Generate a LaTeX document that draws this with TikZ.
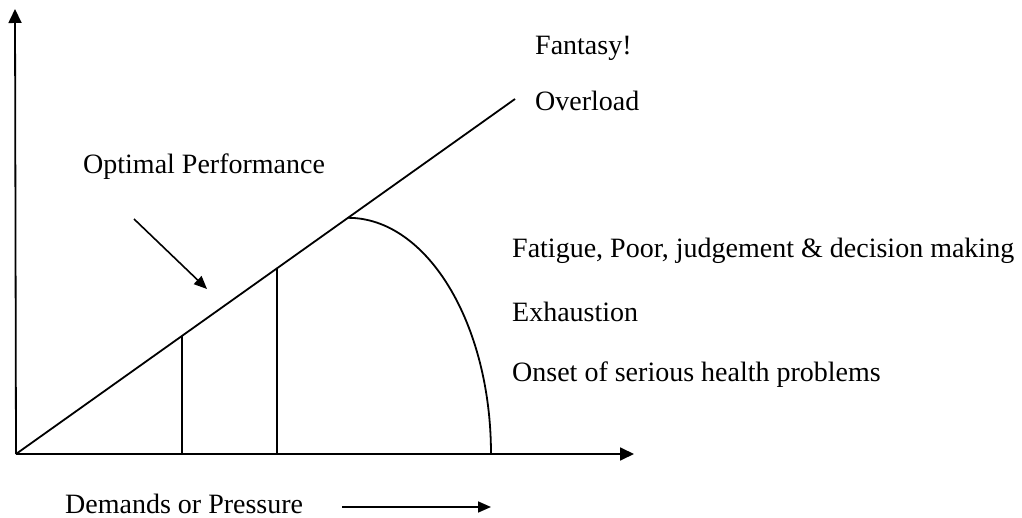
\documentclass[tikz,border=0pt]{standalone}
\usepackage{fontspec}
\setmainfont{Liberation Serif}
\usetikzlibrary{arrows.meta,calc}
\begin{document}
\begin{tikzpicture}[x=1pt,y=-1pt,
  axis/.style={line width=1.8pt,-{Triangle[length=14pt,width=13pt]}},
  curve/.style={line width=1.8pt},
  label/.style={anchor=base west,inner sep=0pt,font=\fontsize{28}{30}\selectfont},
  pointer/.style={line width=1.6pt,-{Triangle[length=13pt,width=11pt]}}]
  \useasboundingbox (0,0) rectangle (1022,518);

  % axes
  \coordinate (O) at (16,454);
  \coordinate (Ytop) at (15,9);
  \coordinate (Xend) at (634,454);
  \draw[axis] (O) -- (Ytop);
  \draw[axis] (O) -- (Xend);

  % performance line
  \coordinate (Lend) at (515,99);
  \draw[curve] (O) -- (Lend);

  % zone boundaries
  \coordinate (v1) at ($(O)!0.3327!(Lend)$);
  \coordinate (v2) at ($(O)!0.523!(Lend)$);
  \coordinate (peak) at ($(O)!0.6653!(Lend)$);
  \draw[curve] (v1) -- (v1 |- O);
  \draw[curve] (v2) -- (v2 |- O);
  \draw[curve] (peak) arc[start angle=90,end angle=0,x radius=143,y radius=-236];

  % labels
  \node[label] (fantasy) at (535,55) {Fantasy!};
  \node[label] (overload) at (535,111) {Overload};
  \node[label] (optimal) at (83,174) {Optimal Performance};
  \node[label] (fatigue) at (512,258) {Fatigue, Poor, judgement \& decision making};
  \node[label] (exhaust) at (512,322) {Exhaustion};
  \node[label] (onset) at (512,381) {Onset of serious health problems};
  \node[label] (demands) at (65,513) {Demands or Pressure};

  % pointers
  \coordinate (p1) at (134,219);
  \coordinate (p2) at (207,289);
  \draw[pointer] (p1) -- (p2);
  \coordinate (d1) at (342,507);
  \coordinate (d2) at (491,507);
  \draw[pointer] (d1) -- (d2);
\end{tikzpicture}
\end{document}
